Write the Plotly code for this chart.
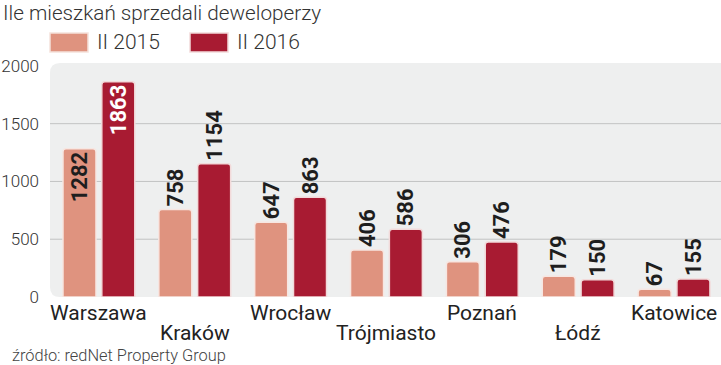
import plotly.graph_objects as go

cities = ["Warszawa", "Kraków", "Wrocław", "Trójmiasto", "Poznań", "Łódź", "Katowice"]
sales_2015 = [1282, 758, 647, 406, 306, 179, 67]
sales_2016 = [1863, 1154, 863, 586, 476, 150, 155]
series_names = ["II 2015", "II 2016"]
y_ticks = [0, 500, 1000, 1500, 2000]
title_text = "Ile mieszkań sprzedali deweloperzy"
source_text = "źródło: redNet Property Group"

C15 = "#DF937F"
C16 = "#A81B32"
FONT = "Roboto"

W, H = 721, 365
L, R, T, B = 50, 0, 63, 68
PW, PH = W - L - R, H - T - B

def px(x):
    return (x - L) / PW

def py(y):
    return (H - B - y) / PH

pos15 = ["inside" if v > 1200 else "outside" for v in sales_2015]
pos16 = ["inside" if v > 1200 else "outside" for v in sales_2016]

fig = go.Figure()
fig.add_trace(go.Bar(
    x=list(range(len(cities))), y=sales_2015, name=series_names[0],
    marker=dict(color=C15, line=dict(color="#F7E6E1", width=1.5), cornerradius=3),
    text=[str(v) for v in sales_2015], textposition=pos15, textangle=-90,
    insidetextanchor="end", constraintext="none",
    insidetextfont=dict(family=FONT, size=22, color="#1E1E1E", weight="bold"),
    outsidetextfont=dict(family=FONT, size=22, color="#1E1E1E", weight="bold"),
    cliponaxis=False, showlegend=False,
))
fig.add_trace(go.Bar(
    x=list(range(len(cities))), y=sales_2016, name=series_names[1],
    marker=dict(color=C16, line=dict(color="#F2DADA", width=1.5), cornerradius=3),
    text=[str(v) for v in sales_2016], textposition=pos16, textangle=-90,
    insidetextanchor="end", constraintext="none",
    insidetextfont=dict(family=FONT, size=22, color="#FFFFFF", weight="bold"),
    outsidetextfont=dict(family=FONT, size=22, color="#1E1E1E", weight="bold"),
    cliponaxis=False, showlegend=False,
))

shapes = []
# rounded grey background
rx, ry = 10 / PW, 10 / PH
shapes.append(dict(
    type="path", xref="paper", yref="paper", layer="below",
    path=(f"M {rx},0 L 1.02,0 L 1.02,1 L {rx},1 Q 0,1 0,{1-ry} "
          f"L 0,{ry} Q 0,0 {rx},0 Z"),
    fillcolor="#EEEFEF", line=dict(width=0),
))
for v in y_ticks[1:-1]:
    shapes.append(dict(type="line", xref="paper", yref="y", x0=0, x1=1, y0=v, y1=v,
                       layer="below", line=dict(color="#C2C3C3", width=1)))
# legend swatches
shapes.append(dict(type="rect", xref="paper", yref="paper", x0=px(50), x1=px(88),
                   y0=py(52), y1=py(33), fillcolor=C15,
                   line=dict(color="#F5E2DC", width=1.5)))
shapes.append(dict(type="rect", xref="paper", yref="paper", x0=px(190), x1=px(228),
                   y0=py(52), y1=py(33), fillcolor=C16,
                   line=dict(color="#F2DADA", width=1.5)))

ann = []
ann.append(dict(text=title_text, xref="paper", yref="paper", x=px(1), y=py(13),
                xanchor="left", yanchor="middle", showarrow=False,
                font=dict(family=FONT, size=20.7, color="#333333", weight=300)))
ann.append(dict(text=series_names[0], xref="paper", yref="paper", x=px(95), y=py(42),
                xanchor="left", yanchor="middle", showarrow=False,
                font=dict(family=FONT, size=21, color="#333333", weight=300)))
ann.append(dict(text=series_names[1], xref="paper", yref="paper", x=px(235), y=py(42),
                xanchor="left", yanchor="middle", showarrow=False,
                font=dict(family=FONT, size=21, color="#333333", weight=300)))
ann.append(dict(text=source_text, xref="paper", yref="paper", x=px(10), y=py(355),
                xanchor="left", yanchor="middle", showarrow=False,
                font=dict(family=FONT, size=16.4, color="#444444", weight=300)))
for i, c in enumerate(cities):
    row_y = 313 if i % 2 == 0 else 333
    ann.append(dict(text=c, xref="x", yref="paper", x=i, y=py(row_y),
                    xanchor="center", yanchor="middle", showarrow=False,
                    font=dict(family=FONT, size=21, color="#222222")))

fig.update_layout(
    width=W, height=H,
    margin=dict(l=L, r=R, t=T, b=B),
    paper_bgcolor="white", plot_bgcolor="rgba(0,0,0,0)",
    barmode="group", bargap=0.19, bargroupgap=0.15,
    shapes=shapes, annotations=ann,
    xaxis=dict(range=[-0.51, 6.49], showticklabels=False, showgrid=False,
               zeroline=False, showline=False, fixedrange=True),
    yaxis=dict(range=[0, 2025], tickvals=y_ticks, showgrid=False, zeroline=False,
               showline=False, ticks="", ticklabelstandoff=10, automargin=False,
               tickfont=dict(family=FONT, size=17, color="#333333", weight=300)),
    font=dict(family=FONT),
)

fig.write_html("out.html", config={"displayModeBar": False},
               post_script="document.body.style.margin='0';document.body.style.overflow='hidden';")
